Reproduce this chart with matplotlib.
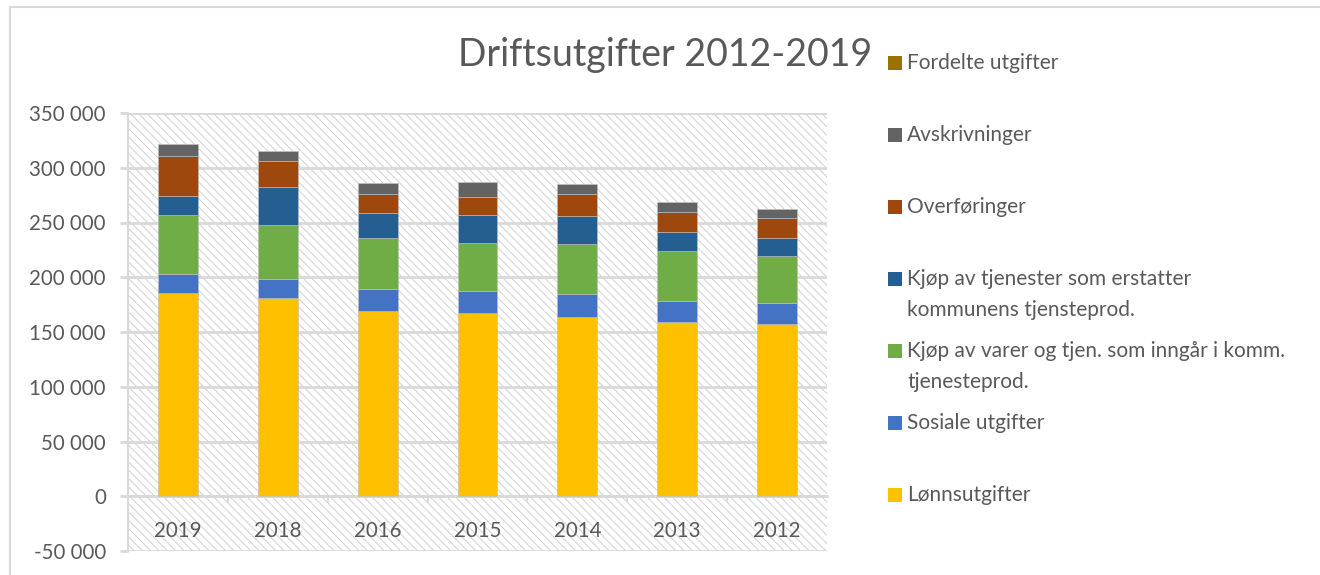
import numpy as np
import matplotlib.pyplot as plt
from matplotlib.patches import Rectangle
from matplotlib.lines import Line2D

plt.rcParams['font.family'] = ['Lato', 'DejaVu Sans']
plt.rcParams['hatch.linewidth'] = 0.7
plt.rcParams['hatch.color'] = '#d0d0d0'

#### DATA ####
years = ['2019', '2018', '2016', '2015', '2014', '2013', '2012']

lonn = [185500, 180900, 169300, 167500, 163900, 158700, 157500]
sosiale = [17400, 17700, 20100, 20100, 20400, 19200, 18600]
kjop_varer = [54100, 49000, 46400, 43900, 46000, 46000, 42900]
kjop_tjen = [17400, 34500, 22500, 25300, 25300, 17100, 16800]
overforinger = [36600, 23700, 18000, 16700, 20100, 18800, 18500]
avskrivninger = [10400, 9800, 9400, 13100, 9100, 8900, 8300]
fordelte = [0, 0, 0, 500, 0, 0, 0]

series_labels = ['Lønnsutgifter', 'Sosiale utgifter',
                 'Kjøp av varer og tjen. som inngår i komm.\ntjenesteprod.',
                 'Kjøp av tjenester som erstatter\nkommunens tjensteprod.',
                 'Overføringer', 'Avskrivninger', 'Fordelte utgifter']
series_data = [lonn, sosiale, kjop_varer, kjop_tjen, overforinger, avskrivninger, fordelte]
series_colors = ['#FFC000', '#4472C4', '#70AD47', '#255E91', '#9E480E', '#636363', '#997300']

yticks = np.arange(-50000, 350001, 50000)
grey_txt = '#595959'
grid_col = '#d9d9d9'

#### FIGURE ####
fig = plt.figure(figsize=(13.2, 5.75), dpi=100)
W, H = 1320, 575
ax = fig.add_axes([128 / W, 24 / H, 699 / W, 438 / H])

# hatched plot area
ax.patch.set_visible(False)
ax.add_patch(Rectangle((0, 0), 1, 1, transform=ax.transAxes, facecolor='white',
                       edgecolor='#d0d0d0', hatch='\\\\\\\\', lw=0, zorder=0))

x = np.arange(len(years))
bottom = np.zeros(len(years))
for vals, lab, col in zip(series_data, series_labels, series_colors):
    ax.bar(x, vals, width=0.4, bottom=bottom, color=col, label=lab,
           edgecolor='#bfbfbf', linewidth=0.4, zorder=3)
    bottom += np.array(vals)

ax.set_xlim(-0.5, len(years) - 0.5)
ax.set_ylim(-50000, 350000)
ax.set_yticks(yticks)
ax.set_yticklabels([f'{v:,}'.replace(',', ' ') for v in yticks])
ax.yaxis.grid(True, color=grid_col, linewidth=2, zorder=1)
ax.set_axisbelow(True)

ax.set_xticks(x)
ax.set_xticklabels(years)
ax.set_xticks(np.arange(0.5, len(years) - 0.5, 1), minor=True)

for s in ['top', 'right']:
    ax.spines[s].set_visible(False)
ax.spines['left'].set_color(grid_col)
ax.spines['left'].set_linewidth(1.5)
ax.spines['bottom'].set_position(('data', 0))
ax.spines['bottom'].set_color(grid_col)
ax.spines['bottom'].set_linewidth(2)

ax.tick_params(axis='y', length=6, width=2, color=grid_col, labelcolor=grey_txt,
               labelsize=14.8, pad=10)
ax.tick_params(axis='x', which='major', length=0, labelcolor=grey_txt,
               labelsize=14.8, pad=18)
ax.tick_params(axis='x', which='minor', length=4, width=1.5, color=grid_col)

#### TITLE ####
fig.text(665 / W, 1 - 55 / H, 'Driftsutgifter 2012-2019', ha='center', va='center',
         fontsize=27, color=grey_txt)

#### LEGEND (Excel style, evenly spaced rows) ####
leg_y0 = 63
for i, (lab, col) in enumerate(zip(series_labels[::-1], series_colors[::-1])):
    yc = leg_y0 + 72 * i
    fig.patches.append(Rectangle((888 / W, 1 - (yc + 7) / H), 14 / W, 14 / H,
                                 transform=fig.transFigure, facecolor=col,
                                 edgecolor='none', figure=fig))
    fig.text(907 / W, 1 - (yc - 10) / H, lab, ha='left', va='top', fontsize=15,
             color=grey_txt, linespacing=1.7)

#### outer chart border ####
fig.add_artist(Line2D([10 / W, 10 / W], [0, 1 - 7 / H], color=grid_col, lw=1.5))
fig.add_artist(Line2D([10 / W, 1], [1 - 7 / H, 1 - 7 / H], color=grid_col, lw=1.5))

fig.savefig('out.png', dpi=100)
